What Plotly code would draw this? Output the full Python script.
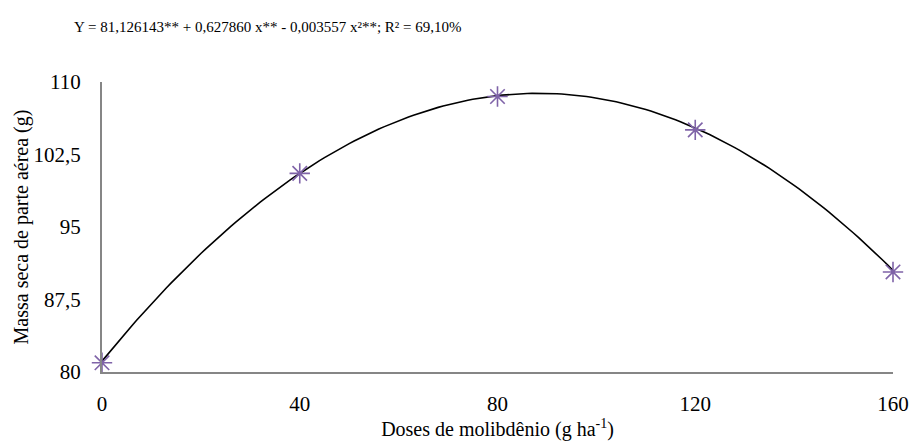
import plotly.graph_objects as go

# Observed data
doses = [0, 40, 80, 120, 160]
massa = [80.95, 100.55, 108.5, 105.05, 90.35]

# Regression coefficients shown in the chart's equation
coef_b0 = [81.126143]
coef_b1 = [0.627860]
coef_b2 = [-0.003557]

y_tickvals = [80, 87.5, 95, 102.5, 110]
y_ticktext = ["80", "87,5", "95", "102,5", "110"]
x_tickvals = [0, 40, 80, 120, 160]

curve_x = list(range(0, 161))
curve_y = [coef_b0[0] + coef_b1[0] * x + coef_b2[0] * x * x for x in curve_x]

font_family = "Liberation Serif"
purple = "#7f63a8"

fig = go.Figure()
fig.add_trace(go.Scatter(x=curve_x, y=curve_y, mode="lines",
                         line=dict(color="black", width=1.6), hoverinfo="skip",
                         showlegend=False))
fig.add_trace(go.Scatter(x=doses, y=massa, mode="markers",
                         marker=dict(symbol="asterisk-open", size=17, color=purple,
                                     line=dict(color=purple, width=1.6)),
                         showlegend=False, cliponaxis=False))

fig.update_layout(
    width=911, height=441,
    margin=dict(l=102, r=18, t=82, b=69, autoexpand=False),
    paper_bgcolor="white", plot_bgcolor="white",
    font=dict(family=font_family, size=20, color="black"),
    separators=",.",
    xaxis=dict(range=[0, 160], tickvals=x_tickvals, showgrid=False, zeroline=False,
               showline=True, linecolor="#868686", linewidth=2, ticks="",
               automargin=False,
               ticklabelstandoff=12, tickfont=dict(family=font_family, size=21),
               title=dict(text="Doses de molibdênio (g ha<sup>-1</sup>)",
                          font=dict(family=font_family, size=20), standoff=6)),
    yaxis=dict(range=[80, 110], tickvals=y_tickvals, ticktext=y_ticktext,
               showgrid=False, zeroline=False, showline=True, linecolor="#868686",
               linewidth=2, ticks="", ticklabelstandoff=15, automargin=False,
               tickfont=dict(family=font_family, size=21),
               title=dict(text="Massa seca de parte aérea (g)",
                          font=dict(family=font_family, size=20), standoff=0)),
    annotations=[dict(text="Y = 81,126143** + 0,627860 x** - 0,003557 x²**; R² = 69,10%",
                      xref="paper", yref="paper", x=-0.038, y=1.0, yshift=55,
                      xanchor="left", yanchor="middle", showarrow=False,
                      font=dict(family=font_family, size=15))],
)

fig.write_html("out.html")
